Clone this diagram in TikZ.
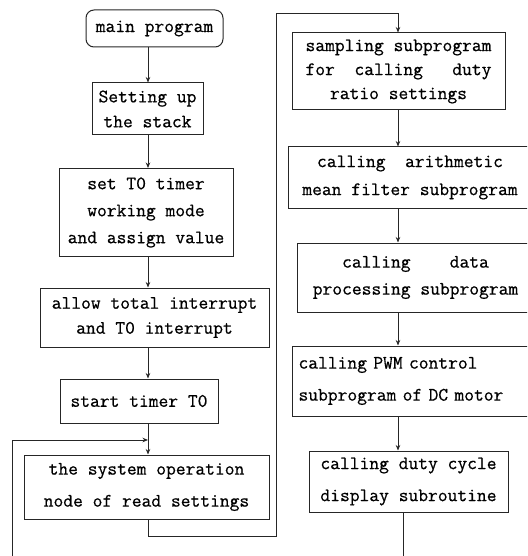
\documentclass[tikz,border=0pt]{standalone}
\usepackage{fontspec}
\setmonofont{Latin Modern Mono}[FakeBold=0.6]
\usetikzlibrary{arrows.meta}
\begin{document}
\begin{tikzpicture}[x=1pt,y=-1pt,
  box/.style={draw=black!85, line width=1pt, inner sep=0pt, align=center},
  fs/.style={font=\fontsize{19}{#1}\selectfont\ttfamily},
  link/.style={draw=black!85, line width=1pt},
  arr/.style={link, -{Stealth[length=5.5pt,width=4.5pt]}}]
\useasboundingbox (0,0) rectangle (527,556);
\clip (0,0) rectangle (527,556);
% left column
\node[box, fs=25, rounded corners=8pt, minimum width=137pt, minimum height=37pt] (main) at (154.5,28.5) {main program};
\node[box, fs=25, minimum width=111pt, minimum height=52pt] (stack) at (147.5,109) {Setting up\\the stack};
\node[box, fs=27, minimum width=174pt, minimum height=88pt] (timer) at (146,212.5) {set T0 timer\\working mode\\and assign value};
\node[box, fs=25, minimum width=229pt, minimum height=59pt] (allow) at (154.5,317.5) {allow total interrupt\\and T0 interrupt};
\node[box, fs=25, minimum width=158pt, minimum height=44pt] (start) at (139,401) {start timer T0};
\node[box, fs=32, minimum width=245pt, minimum height=64pt] (sys) at (146.5,487) {the system operation\\node of read settings};
% right column
\node[box, fs=24, minimum width=213pt, minimum height=77pt] (samp) at (398.5,71.5) {sampling subprogram\\for\ \ calling\ \ \ duty\\ratio settings};
\node[box, fs=28, minimum width=244pt, minimum height=61pt] (arith) at (410,177.5) {calling\ \ arithmetic\\mean filter subprogram};
\node[box, fs=27, minimum width=237pt, minimum height=69pt] (data) at (415.5,277.5) {calling\ \ \ \ data\\processing subprogram};
\node[box, fs=32, align=left, anchor=west, text width=230pt, inner xsep=6pt, minimum height=70pt] (pwm) at (292,381) {calling PWM control\\subprogram of DC motor};
\node[box, fs=32, minimum width=199pt, minimum height=61pt] (disp) at (408.5,481.5) {calling duty cycle\\display subroutine};
% helper coordinates
\coordinate (cl) at (148,0);
\coordinate (cr) at (398,0);
\coordinate (cd) at (403,0);
\coordinate (loopy) at (0,440);
\coordinate (bot) at (0,559);
\coordinate (lx) at (12,0);
\coordinate (j1) at (276,536);
\coordinate (j2) at (276,14);
% left arrows
\draw[arr] (main.south -| cl) -- (stack.north -| cl);
\draw[arr] (stack.south -| cl) -- (timer.north -| cl);
\draw[arr] (timer.south -| cl) -- (allow.north -| cl);
\draw[arr] (allow.south -| cl) -- (start.north -| cl);
\draw[arr] (start.south -| cl) -- (sys.north -| cl);
% right arrows
\draw[arr] (samp.south -| cr) -- (arith.north -| cr);
\draw[arr] (arith.south -| cr) -- (data.north -| cr);
\draw[arr] (data.south -| cr) -- (pwm.north -| cr);
\draw[arr] (pwm.south -| cr) -- (disp.north -| cr);
% connection between columns
\draw[arr] (sys.south -| cl) -- (j1 -| cl) -- (j1) -- (j2) -- (j2 -| cr) -- (samp.north -| cr);
% return loop
\draw[arr] (disp.south -| cd) -- (bot -| cd) -- (bot -| lx) -- (loopy -| lx) -- (loopy -| cl);
\end{tikzpicture}
\end{document}
